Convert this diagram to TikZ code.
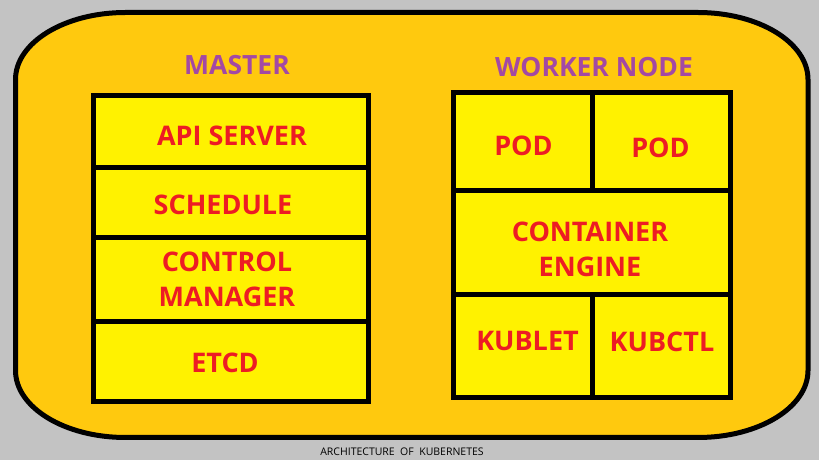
\documentclass[tikz,border=0pt]{standalone}
\usepackage{fontspec}
\setmainfont{Open Sans}
\begin{document}
\begin{tikzpicture}[x=1pt,y=1pt,
  cell/.style={draw=black,line width=5pt,fill=ylw,inner sep=0pt},
  lbl/.style={text=redtxt,font=\fontsize{27}{35}\selectfont\bfseries,align=center,inner sep=0pt},
  head/.style={text=purp,font=\fontsize{26.5}{30}\selectfont\bfseries,inner sep=0pt}]
\definecolor{bg}{HTML}{C3C3C3}
\definecolor{orng}{HTML}{FFC90E}
\definecolor{ylw}{HTML}{FFF200}
\definecolor{redtxt}{HTML}{ED1C24}
\definecolor{purp}{HTML}{A349A4}
\useasboundingbox (0,0) rectangle (819,460);
\fill[bg] (0,0) rectangle (819,460);
% outer rounded frame
\draw[line width=5pt,fill=orng] (125.5,447.5) -- (698,447.5)
  arc[start angle=90,end angle=0,x radius=110,y radius=67] -- (808,89.5)
  arc[start angle=0,end angle=-90,x radius=110,y radius=67] -- (125.5,22.5)
  arc[start angle=270,end angle=180,x radius=110,y radius=67] -- (15.5,380.5)
  arc[start angle=180,end angle=90,x radius=110,y radius=67] -- cycle;
% master cells
\node[cell,minimum width=275pt,minimum height=72pt] (api) at (231,328.5) {};
\node[cell,minimum width=275pt,minimum height=70.5pt] (sch) at (231,257.25) {};
\node[cell,minimum width=275pt,minimum height=83.5pt] (ctl) at (231,180.25) {};
\node[cell,minimum width=275pt,minimum height=80pt] (etcd) at (231,98.5) {};
% worker cells
\node[cell,minimum width=139pt,minimum height=98pt] (pod1) at (523,318.5) {};
\node[cell,minimum width=138pt,minimum height=98pt] (pod2) at (661.5,318.5) {};
\node[cell,minimum width=277pt,minimum height=104.5pt] (eng) at (592,217.25) {};
\node[cell,minimum width=139pt,minimum height=103pt] (kl) at (523,113.5) {};
\node[cell,minimum width=138pt,minimum height=103pt] (kc) at (661.5,113.5) {};
% headings
\node[head] (hm) at (237,395) {MASTER};
\node[head] (hw) at (594,393) {WORKER NODE};
% labels
\node[lbl] (tapi) at (232,324) {API SERVER};
\node[lbl] (tsch) at (223,255.5) {SCHEDULE};
\node[lbl] (tctl) at (227,181) {CONTROL\\MANAGER};
\node[lbl] (tetcd) at (225,97) {ETCD};
\node[lbl] (tp1) at (523.5,314) {POD};
\node[lbl] (tp2) at (660.5,312) {POD};
\node[lbl] (teng) at (590,211) {CONTAINER\\ENGINE};
\node[lbl] (tkl) at (527.5,119) {KUBLET};
\node[lbl] (tkc) at (662,118) {KUBCTL};
% caption
\node[font=\fontsize{10.5}{12}\selectfont,inner sep=0pt] (cap) at (402,8) {ARCHITECTURE~~OF~~KUBERNETES};
\end{tikzpicture}
\end{document}
